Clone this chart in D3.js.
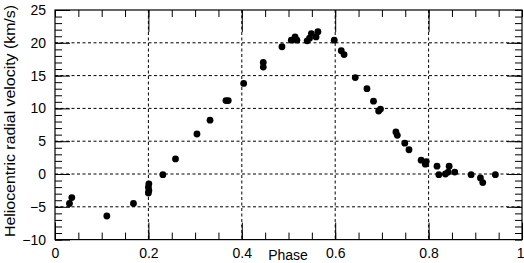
<!DOCTYPE html>
<html>
<head>
<meta charset="utf-8">
<script src="https://cdn.jsdelivr.net/npm/d3@7"></script>
<style>
  body { margin: 0; background: #fff; }
  svg { display: block; font-family: "Liberation Sans", Arial, sans-serif; }
  .axis path.domain { display: none; }
  .axis line { stroke: #000; stroke-width: 1px; }
  .axis text { font-size: 14px; fill: #000; }
  .grid { stroke: #000; stroke-width: 1px; stroke-dasharray: 3,2.5; }
</style>
</head>
<body>
<div class="chart"></div>
<script>
// Phase and velocity
const phase = [0.031, 0.036, 0.111, 0.168, 0.201, 0.200, 0.201, 0.200, 0.231, 0.258,
    0.304, 0.332, 0.366, 0.371, 0.404, 0.446, 0.446, 0.486, 0.506, 0.514,
    0.518, 0.540, 0.545, 0.549, 0.559, 0.563, 0.598, 0.613, 0.619, 0.643,
    0.668, 0.682, 0.693, 0.697, 0.730, 0.733, 0.749, 0.758, 0.784, 0.793,
    0.795, 0.818, 0.822, 0.836, 0.842, 0.844, 0.856, 0.891, 0.911, 0.916, 0.943];
const velocity = [-4.5, -3.6, -6.4, -4.5, -1.5, -2.0, -2.5, -2.9, -0.1, 2.3,
    6.1, 8.2, 11.2, 11.2, 13.8, 17.0, 16.3, 19.4, 20.4, 20.9,
    20.4, 20.3, 20.7, 21.4, 20.9, 21.7, 20.4, 18.8, 18.2, 14.7,
    13.0, 11.1, 9.6, 9.9, 6.4, 5.9, 4.7, 3.7, 2.1, 1.5,
    1.9, 1.2, -0.1, 0.0, 0.3, 1.2, 0.3, -0.1, -0.6, -1.3, -0.1];

// Tick labels
const xLabels = [0, 0.2, 0.4, 0.6, 0.8, 1];
const yLabels = [-10, -5, 0, 5, 10, 15, 20, 25];
const xGrid = [0.2, 0.4, 0.6, 0.8];
const yGrid = [-5, 0, 5, 10, 15, 20];

let width = 524;
let height = 263;

let margin = { top: 10, right: 2, bottom: 23.4, left: 55 };

let svg = d3.select(".chart").append("svg")
    .attr("width", width)
    .attr("height", height);

const x = d3.scaleLinear()
    .domain([0, 1])
    .range([margin.left, width - margin.right]);

const y = d3.scaleLinear()
    .domain([-10, 25])
    .range([height - margin.bottom, margin.top]);

const plotTop = margin.top;
const plotBottom = height - margin.bottom;
const plotLeft = margin.left;
const plotRight = width - margin.right;

// Dashed grid
svg.selectAll(".gx").data(xGrid).enter().append("line")
    .attr("class", "grid")
    .attr("x1", d => x(d)).attr("x2", d => x(d))
    .attr("y1", plotTop).attr("y2", plotBottom);

svg.selectAll(".gy").data(yGrid).enter().append("line")
    .attr("class", "grid")
    .attr("x1", plotLeft).attr("x2", plotRight)
    .attr("y1", d => y(d)).attr("y2", d => y(d));

// Minor ticks every 0.05 phase and every 1 km/s
const xMinor = d3.range(0, 1.0001, 0.05);
const yMinor = d3.range(-10, 25.001, 1);

svg.append("g").attr("class", "axis")
    .attr("transform", `translate(0, ${plotBottom})`)
    .call(d3.axisBottom(x).tickValues(xMinor).tickSize(-7).tickFormat(""));

svg.append("g").attr("class", "axis")
    .attr("transform", `translate(0, ${plotTop})`)
    .call(d3.axisTop(x).tickValues(xMinor).tickSize(-7).tickFormat(""));

svg.append("g").attr("class", "axis")
    .attr("transform", `translate(${plotLeft}, 0)`)
    .call(d3.axisLeft(y).tickValues(yMinor).tickSize(-7).tickFormat(""));

svg.append("g").attr("class", "axis")
    .attr("transform", `translate(${plotRight}, 0)`)
    .call(d3.axisRight(y).tickValues(yMinor).tickSize(-7).tickFormat(""));

// Major ticks with labels
let xAxisMajor = svg.append("g").attr("class", "axis")
    .attr("transform", `translate(0, ${plotBottom})`)
    .call(d3.axisBottom(x).tickValues(xLabels).tickSize(-17).tickPadding(8)
        .tickFormat(d => d === 0 || d === 1 ? String(d) : d.toFixed(1)));

// keep the "1" inside the picture
xAxisMajor.selectAll("text")
    .filter(d => d === 1)
    .attr("text-anchor", "end")
    .attr("x", 2);

svg.append("g").attr("class", "axis")
    .attr("transform", `translate(0, ${plotTop})`)
    .call(d3.axisTop(x).tickValues(xGrid).tickSize(-22).tickFormat(""));

svg.append("g").attr("class", "axis")
    .attr("transform", `translate(${plotLeft}, 0)`)
    .call(d3.axisLeft(y).tickValues(yLabels).tickSize(-15).tickPadding(9));

svg.append("g").attr("class", "axis")
    .attr("transform", `translate(${plotRight}, 0)`)
    .call(d3.axisRight(y).tickValues(yGrid).tickSize(-15).tickFormat(""));

// Frame
svg.append("rect")
    .attr("x", plotLeft).attr("y", plotTop)
    .attr("width", plotRight - plotLeft).attr("height", plotBottom - plotTop)
    .attr("fill", "none")
    .attr("stroke", "#000")
    .attr("stroke-width", 1.2);

// Data points
svg.selectAll(".dot").data(phase).enter().append("circle")
    .attr("class", "dot")
    .attr("cx", (d, i) => x(d))
    .attr("cy", (d, i) => y(velocity[i]))
    .attr("r", 3.4)
    .attr("fill", "#000");

// Axis titles
svg.append("text")
    .attr("x", 288).attr("y", 260)
    .attr("text-anchor", "middle")
    .style("font-size", "14px")
    .text("Phase");

svg.append("text")
    .attr("transform", `translate(15, 121) rotate(-90)`)
    .attr("text-anchor", "middle")
    .attr("textLength", 232)
    .attr("lengthAdjust", "spacingAndGlyphs")
    .style("font-size", "14px")
    .text("Heliocentric radial velocity (km/s)");
</script>
</body>
</html>
